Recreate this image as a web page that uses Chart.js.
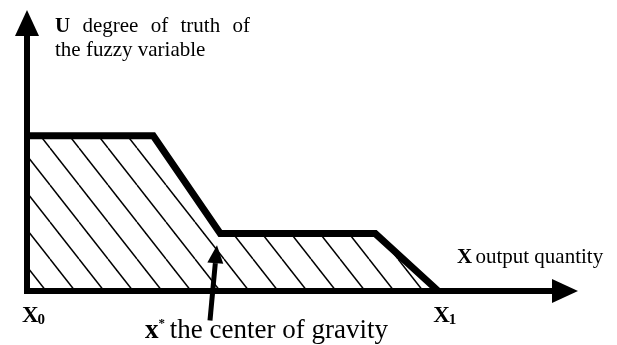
<!DOCTYPE html>
<html>
<head>
<meta charset="utf-8">
<script src="https://cdn.jsdelivr.net/npm/chart.js@4"></script>
<style>
  html, body { margin: 0; padding: 0; background: #fff; }
  #wrap { width: 617px; height: 345px; }
</style>
</head>
<body>
<div id="wrap"><canvas id="chart" width="617" height="345"></canvas></div>
<script>
// DATA
const xValues = [0, 3.07, 4.7, 8.47, 10];   // output quantity
const uValues = [1, 1, 0.37, 0.37, 0];      // degree of truth
const xTicks = [{ value: 0, label: "X", sub: "0" }, { value: 10, label: "X", sub: "1" }];
const gravity = { from: [4.45, -0.19], to: [4.62, 0.295] };  // arrow to x*
const yTitle = ["U", "degree of truth of", "the fuzzy variable"];
const xTitle = ["X", "output quantity"];
const gravityText = ["x", "*", " the center of gravity"];

const SERIF = '"Liberation Serif", "Times New Roman", serif';

// hatch pattern
function hatch() {
  const w = 29, h = 37, off = 21;
  const c = document.createElement("canvas");
  c.width = w; c.height = h;
  const g = c.getContext("2d");
  g.strokeStyle = "#000";
  g.lineWidth = 1.5;
  for (let k = -2; k <= 1; k++) {
    g.beginPath();
    g.moveTo(off + k * w, 0);
    g.lineTo(off + k * w + w, h);
    g.stroke();
  }
  return g.createPattern(c, "repeat");
}

// AXES + TEXT
const decor = {
  id: "decor",
  afterDatasetsDraw(chart) {
    const { ctx, chartArea: a, scales: { x, y } } = chart;
    const x0 = x.getPixelForValue(0), y0 = y.getPixelForValue(0);
    ctx.save();
    ctx.fillStyle = "#000";
    ctx.strokeStyle = "#000";

    // y axis
    ctx.fillRect(x0 - 3, a.top + 24, 6, y0 - a.top - 24 + 3);
    ctx.beginPath();
    ctx.moveTo(x0, a.top);
    ctx.lineTo(x0 - 12, a.top + 26);
    ctx.lineTo(x0 + 12, a.top + 26);
    ctx.closePath();
    ctx.fill();

    // x axis
    ctx.fillRect(x0 - 3, y0 - 3, a.right - 24 - x0 + 3, 6);
    ctx.beginPath();
    ctx.moveTo(a.right, y0);
    ctx.lineTo(a.right - 26, y0 - 12);
    ctx.lineTo(a.right - 26, y0 + 12);
    ctx.closePath();
    ctx.fill();

    // gravity arrow
    const tx = x.getPixelForValue(gravity.to[0]), ty = y.getPixelForValue(gravity.to[1]);
    const fx = x.getPixelForValue(gravity.from[0]), fy = y.getPixelForValue(gravity.from[1]);
    const ang = Math.atan2(ty - fy, tx - fx);
    const hl = 18, hw = 8;
    const bx = tx - Math.cos(ang) * hl, by = ty - Math.sin(ang) * hl;
    ctx.lineWidth = 5;
    ctx.beginPath();
    ctx.moveTo(fx, fy);
    ctx.lineTo(bx, by);
    ctx.stroke();
    ctx.beginPath();
    ctx.moveTo(tx, ty);
    ctx.lineTo(bx + Math.sin(ang) * hw, by - Math.cos(ang) * hw);
    ctx.lineTo(bx - Math.sin(ang) * hw, by + Math.cos(ang) * hw);
    ctx.closePath();
    ctx.fill();

    ctx.textBaseline = "alphabetic";
    ctx.textAlign = "left";

    // y title (first line justified)
    const fs = 21;
    const words = [yTitle[0]].concat(yTitle[1].split(" "));
    const widths = words.map((w, i) => {
      ctx.font = (i === 0 ? "bold " : "") + fs + "px " + SERIF;
      return ctx.measureText(w).width;
    });
    const total = 195, gap = (total - widths.reduce((s, v) => s + v, 0)) / (words.length - 1);
    let px = x0 + 28;
    words.forEach((w, i) => {
      ctx.font = (i === 0 ? "bold " : "") + fs + "px " + SERIF;
      ctx.fillText(w, px, 32);
      px += widths[i] + gap;
    });
    ctx.font = fs + "px " + SERIF;
    ctx.fillText(yTitle[2], x0 + 28, 56);

    // x title
    ctx.font = "bold 21px " + SERIF;
    const xl = 457;
    ctx.fillText(xTitle[0], xl, y0 - 28);
    const xw = ctx.measureText(xTitle[0] + " ").width;
    ctx.font = "21px " + SERIF;
    ctx.fillText(xTitle[1], xl + xw - 2, y0 - 28);

    // ticks X0 / X1
    xTicks.forEach(t => {
      const p = x.getPixelForValue(t.value) - 5;
      ctx.font = "bold 23px " + SERIF;
      ctx.fillText(t.label, p, y0 + 31);
      const lw = ctx.measureText(t.label).width;
      ctx.font = "bold 15px " + SERIF;
      ctx.fillText(t.sub, p + lw - 1, y0 + 33);
    });

    // gravity label
    let gx = 145;
    const gy = 338;
    ctx.font = "bold 27px " + SERIF;
    ctx.fillText(gravityText[0], gx, gy);
    gx += ctx.measureText(gravityText[0]).width;
    ctx.font = "bold 13px " + SERIF;
    ctx.fillText(gravityText[1], gx, gy - 11);
    gx += ctx.measureText(gravityText[1]).width - 2;
    ctx.font = "27px " + SERIF;
    ctx.fillText(gravityText[2], gx, gy);

    ctx.restore();
  }
};

new Chart(document.getElementById("chart"), {
  type: "line",
  data: {
    datasets: [{
      data: xValues.map((v, i) => ({ x: v, y: uValues[i] })),
      borderColor: "#000",
      borderWidth: 7,
      borderJoinStyle: "miter",
      backgroundColor: hatch(),
      fill: "origin",
      pointRadius: 0,
      tension: 0,
      clip: false
    }]
  },
  options: {
    responsive: false,
    animation: false,
    layout: { padding: { left: 27, right: 39, top: 10, bottom: 54 } },
    plugins: { legend: { display: false }, tooltip: { enabled: false } },
    scales: {
      x: { type: "linear", min: 0, max: 13.4, display: false },
      y: { type: "linear", min: 0, max: 1.81, display: false }
    }
  },
  plugins: [decor]
});
</script>
</body>
</html>
